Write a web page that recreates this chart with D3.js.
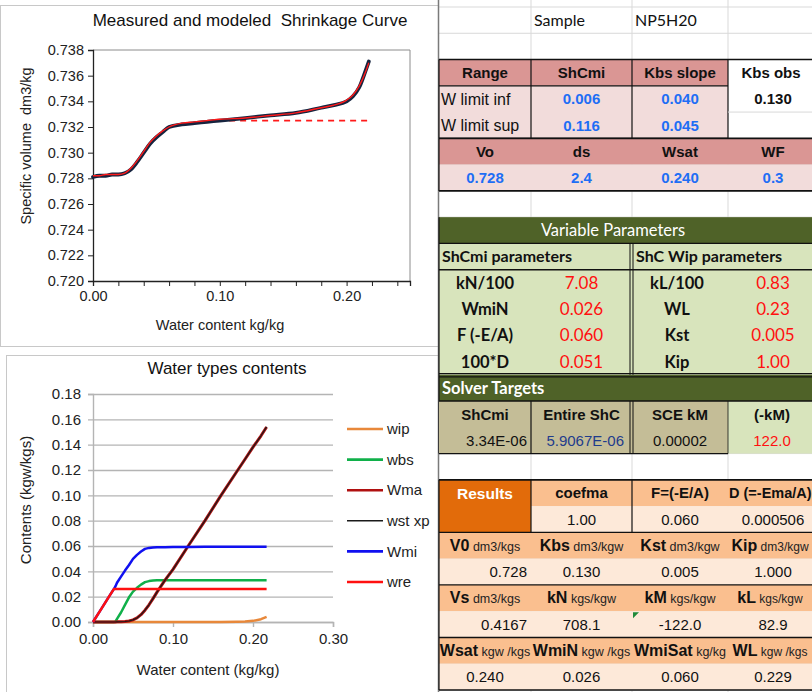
<!DOCTYPE html>
<html>
<head>
<meta charset="utf-8">
<script src="https://cdn.jsdelivr.net/npm/d3@7.9.0/dist/d3.min.js"></script>
<style>
  body { margin: 0; background: #fff; }
  svg { display: block; }
  text { white-space: pre; }
</style>
</head>
<body>
<svg id="sheet" width="812" height="692"></svg>
<script>
// ---------- data: shrinkage curve (top chart) ----------
const shrinkX   = [0, 0.005, 0.01, 0.015, 0.02, 0.025, 0.03, 0.035, 0.04, 0.045, 0.05, 0.055, 0.06, 0.07, 0.08, 0.09, 0.10, 0.12, 0.14, 0.16, 0.18, 0.19, 0.20, 0.205, 0.21, 0.215, 0.2175];
const measuredV = [0.7281, 0.7282, 0.7282, 0.7283, 0.7283, 0.7284, 0.7287, 0.7293, 0.7300, 0.7307, 0.7312, 0.7316, 0.7320, 0.7322, 0.7323, 0.7324, 0.7325, 0.7327, 0.7329, 0.7331, 0.7335, 0.7337, 0.7340, 0.7344, 0.7351, 0.7364, 0.7371];
const modeledV  = [0.7282, 0.7282, 0.7283, 0.7283, 0.7283, 0.7284, 0.7288, 0.7294, 0.7301, 0.7308, 0.7313, 0.7317, 0.7320, 0.7323, 0.7324, 0.7325, 0.7326, 0.7327, 0.7329, 0.7331, 0.7335, 0.7337, 0.7341, 0.7345, 0.7352, 0.7363, 0.7370];
const shcmiX    = [0.09, 0.2175];
const shcmiV    = [0.7325, 0.7325];

// ---------- data: water types (bottom chart) ----------
const waterX = [0, 0.01, 0.02, 0.026, 0.028, 0.03, 0.035, 0.04, 0.045, 0.05, 0.055, 0.06, 0.065, 0.07, 0.075, 0.08, 0.09, 0.10, 0.12, 0.14, 0.16, 0.18, 0.19, 0.20, 0.21, 0.217];
const wip   = [0, 0, 0, 0, 0, 0, 0, 0, 0, 0, 0, 0, 0, 0, 0, 0, 0, 0, 0, 0, 0, 0.0002, 0.0004, 0.0009, 0.0022, 0.0040];
const wbs   = [0, 0, 0, 0, 0.0003, 0.0025, 0.0075, 0.0135, 0.0195, 0.0240, 0.0270, 0.0295, 0.0315, 0.0323, 0.0327, 0.0329, 0.0330, 0.0330, 0.0330, 0.0330, 0.0330, 0.0330, 0.0330, 0.0330, 0.0330, 0.0330];
const wma   = [0, 0, 0, 0, 0, 0.0001, 0.0002, 0.0004, 0.0008, 0.0017, 0.0032, 0.0058, 0.0093, 0.0136, 0.0185, 0.0236, 0.0330, 0.0415, 0.0610, 0.0800, 0.1000, 0.1190, 0.1285, 0.1380, 0.1470, 0.1540];
const wstXp = [0, 0, 0, 0, 0, 0.0001, 0.0002, 0.0004, 0.0008, 0.0017, 0.0032, 0.0058, 0.0093, 0.0136, 0.0185, 0.0236, 0.0330, 0.0415, 0.0610, 0.0800, 0.1000, 0.1190, 0.1285, 0.1380, 0.1470, 0.1540];
const wmi   = [0, 0.0100, 0.0200, 0.0260, 0.0280, 0.0310, 0.0358, 0.0406, 0.0450, 0.0498, 0.0530, 0.0556, 0.0577, 0.0585, 0.0588, 0.0590, 0.0590, 0.0592, 0.0593, 0.0594, 0.0594, 0.0595, 0.0595, 0.0595, 0.0595, 0.0595];
const wre   = [0, 0.0100, 0.0200, 0.0260, 0.0260, 0.0260, 0.0260, 0.0260, 0.0260, 0.0260, 0.0260, 0.0260, 0.0260, 0.0260, 0.0260, 0.0260, 0.0260, 0.0260, 0.0260, 0.0260, 0.0260, 0.0260, 0.0260, 0.0260, 0.0260, 0.0260];
const waterNames  = ["wip", "wbs", "Wma", "wst xp", "Wmi", "wre"];
const waterSeries = [wip, wbs, wma, wstXp, wmi, wre];
const waterColors = ["#e8883a", "#10b04a", "#b01010", "#1a1a1a", "#1010f0", "#ff1010"];
const waterWidths = [2.5, 2.5, 3, 1.2, 2.5, 2.5];

// ---------- data: sheet cells ----------
const sampleRow   = ["Sample", "NP5H20"];
const rangeHead   = ["Range", "ShCmi", "Kbs slope", "Kbs obs"];
const limitLabels = ["W limit inf", "W limit sup"];
const shcmiLimits = ["0.006", "0.116"];
const kbsLimits   = ["0.040", "0.045"];
const kbsObs      = "0.130";
const baseHead    = ["Vo", "ds", "Wsat", "WF"];
const baseVals    = ["0.728", "2.4", "0.240", "0.3"];
const miLabels    = ["kN/100", "WmiN", "F (-E/A)", "100*D"];
const miVals      = ["7.08", "0.026", "0.060", "0.051"];
const wipLabels   = ["kL/100", "WL", "Kst", "Kip"];
const wipVals     = ["0.83", "0.23", "0.005", "1.00"];
const solverHead  = ["ShCmi", "Entire ShC", "SCE kM", "(-kM)"];
const solverVals  = ["3.34E-06", "5.9067E-06", "0.00002", "122.0"];
const resHead     = ["coefma", "F=(-E/A)", "D (=-Ema/A)"];
const resVals     = ["1.00", "0.060", "0.000506"];
const unitHeads = [
  [["V0", "dm3/kgs"], ["Kbs", "dm3/kgw"], ["Kst", "dm3/kgw"], ["Kip", "dm3/kgw"]],
  [["Vs", "dm3/kgs"], ["kN", "kgs/kgw"], ["kM", "kgs/kgw"], ["kL", "kgs/kgw"]],
  [["Wsat", "kgw /kgs"], ["WmiN", "kgw /kgs"], ["WmiSat", "kg/kg"], ["WL", "kgw /kgs"]]
];
const unitVals = [
  ["0.728", "0.130", "0.005", "1.000"],
  ["0.4167", "708.1", "-122.0", "82.9"],
  ["0.240", "0.026", "0.060", "0.229"]
];

const ARIAL = "'Liberation Sans', Arial, sans-serif";
const CALI  = "Lato, 'Open Sans', sans-serif";
const svg = d3.select("#sheet");

// ================= top chart =================
svg.append("rect").attr("x", 0.5).attr("y", 5.5).attr("width", 438).attr("height", 341)
  .attr("fill", "#fff").attr("stroke", "#c8c8c8");

const x1 = d3.scaleLinear().domain([0, 0.25]).range([93, 410]);
const y1 = d3.scaleLinear().domain([0.720, 0.738]).range([281, 50]);

svg.append("path")
  .attr("d", `M${x1(0)},${y1(0.738)}H${x1(0.25)}V${y1(0.720)}`)
  .attr("fill", "none").attr("stroke", "#8c8c8c");

const yAx1 = svg.append("g").attr("transform", `translate(${x1(0)},0)`)
  .call(d3.axisLeft(y1).ticks(9).tickFormat(d3.format(".3f")).tickSize(5));
const xAx1 = svg.append("g").attr("transform", `translate(0,${y1(0.720)})`)
  .call(d3.axisBottom(x1).tickValues(d3.range(13).map(i => i * 0.02))
    .tickFormat(d => Math.abs(d * 10 - Math.round(d * 10)) < 1e-6 ? d3.format(".2f")(d) : "")
    .tickSize(5));
[yAx1, xAx1].forEach(g => {
  g.select(".domain").attr("stroke", "#222").attr("stroke-width", 1.3);
  g.selectAll(".tick line").attr("stroke", "#222");
  g.selectAll("text").attr("font-family", ARIAL).attr("font-size", 14.5).attr("fill", "#222");
});
yAx1.selectAll("text").attr("x", -9);
xAx1.selectAll("text").attr("y", 10);

const line1 = d3.line().x(d => x1(d[0])).y(d => y1(d[1]));
svg.append("path").datum(d3.zip(shcmiX, shcmiV))
  .attr("d", line1).attr("fill", "none").attr("stroke", "#ff1a1a")
  .attr("stroke-width", 1.8).attr("stroke-dasharray", "6,5");
svg.append("path").datum(d3.zip(shrinkX, measuredV))
  .attr("d", line1.curve(d3.curveMonotoneX)).attr("fill", "none").attr("stroke", "#16243f")
  .attr("stroke-width", 3.8).attr("stroke-linecap", "round");
svg.append("path").datum(d3.zip(shrinkX, modeledV))
  .attr("d", line1).attr("fill", "none").attr("stroke", "#ff1a1a").attr("stroke-width", 1.4);

svg.append("text").attr("x", 250).attr("y", 26).attr("text-anchor", "middle")
  .attr("font-family", ARIAL).attr("font-size", 17).attr("fill", "#111")
  .text("Measured and modeled  Shrinkage Curve");
svg.append("text").attr("transform", "translate(31,146) rotate(-90)").attr("text-anchor", "middle")
  .attr("font-family", ARIAL).attr("font-size", 14.5).attr("fill", "#222")
  .text("Specific volume  dm3/kg");
svg.append("text").attr("x", 220).attr("y", 330).attr("text-anchor", "middle")
  .attr("font-family", ARIAL).attr("font-size", 14.5).attr("fill", "#222")
  .text("Water content kg/kg");

// ================= bottom chart =================
svg.append("rect").attr("x", 6.5).attr("y", 355.5).attr("width", 432).attr("height", 340)
  .attr("fill", "#fff").attr("stroke", "#c8c8c8");

const x2 = d3.scaleLinear().domain([0, 0.30]).range([93, 333]);
const y2 = d3.scaleLinear().domain([0, 0.18]).range([622, 394]);

const yAx2 = svg.append("g").attr("transform", `translate(${x2(0)},0)`)
  .call(d3.axisLeft(y2).ticks(9).tickFormat(d3.format(".2f")).tickSize(5));
yAx2.selectAll(".tick line").attr("x2", x2(0.30) - x2(0)).attr("x1", -5)
  .attr("stroke", "#b4b4b4").attr("stroke-width", 1.4);
yAx2.select(".domain").attr("stroke", "#b4b4b4").attr("stroke-width", 1.4);
const xAx2 = svg.append("g").attr("transform", `translate(0,${y2(0)})`)
  .call(d3.axisBottom(x2).tickValues([0, 0.1, 0.2, 0.3]).tickFormat(d3.format(".2f")).tickSize(5));
xAx2.select(".domain").attr("stroke", "#b4b4b4").attr("stroke-width", 1.4);
xAx2.selectAll(".tick line").attr("stroke", "#b4b4b4").attr("stroke-width", 1.4);
[yAx2, xAx2].forEach(g => g.selectAll("text")
  .attr("font-family", ARIAL).attr("font-size", 15).attr("fill", "#222"));
yAx2.selectAll("text").attr("x", -12);
xAx2.selectAll("text").attr("y", 11);

const line2 = d3.line().x(d => x2(d[0])).y(d => y2(d[1]));
waterSeries.forEach((vals, i) => {
  svg.append("path").datum(d3.zip(waterX, vals))
    .attr("d", line2).attr("fill", "none")
    .attr("stroke", waterColors[i]).attr("stroke-width", waterWidths[i])
    .attr("stroke-linejoin", "round");
});

svg.append("text").attr("x", 227).attr("y", 374).attr("text-anchor", "middle")
  .attr("font-family", ARIAL).attr("font-size", 17).attr("fill", "#111")
  .text("Water types contents");
svg.append("text").attr("transform", "translate(31,500) rotate(-90)").attr("text-anchor", "middle")
  .attr("font-family", ARIAL).attr("font-size", 15).attr("fill", "#222")
  .text("Contents (kgw/kgs)");
svg.append("text").attr("x", 208).attr("y", 675).attr("text-anchor", "middle")
  .attr("font-family", ARIAL).attr("font-size", 15).attr("fill", "#222")
  .text("Water content (kg/kg)");

const legend = svg.append("g").attr("transform", "translate(347,429)");
waterNames.forEach((name, i) => {
  const row = legend.append("g").attr("transform", `translate(0,${i * 30.6})`);
  row.append("line").attr("x1", 0).attr("x2", 36)
    .attr("stroke", waterColors[i]).attr("stroke-width", i === 3 ? 1.4 : 2.6);
  row.append("text").attr("x", 40).attr("dy", "0.35em")
    .attr("font-family", ARIAL).attr("font-size", 15).attr("fill", "#222").text(name);
});

// ================= spreadsheet =================
const colX = d3.scaleLinear().domain([0, 1, 2, 3, 4]).range([439, 531, 632, 728, 824]);
const rowY = d3.scaleLinear().domain([0, 26]).range([7, 690]);
const sheet = svg.append("g");

// gridlines
d3.range(0, 27).forEach(r => sheet.append("line")
  .attr("x1", colX(0)).attr("x2", 812).attr("y1", rowY(r)).attr("y2", rowY(r))
  .attr("stroke", "#d9d9d9"));
[1, 2, 3].forEach(c => sheet.append("line")
  .attr("x1", colX(c)).attr("x2", colX(c)).attr("y1", 0).attr("y2", 692)
  .attr("stroke", "#d9d9d9"));
sheet.append("line").attr("x1", 438.5).attr("x2", 438.5).attr("y1", 0).attr("y2", 692)
  .attr("stroke", "#7a7a7a").attr("stroke-width", 1.5);

function fill(c0, c1, r0, r1, color) {
  sheet.append("rect").attr("x", colX(c0)).attr("y", rowY(r0))
    .attr("width", colX(c1) - colX(c0)).attr("height", rowY(r1) - rowY(r0)).attr("fill", color);
}
function hline(c0, c1, r, w = 1.2) {
  sheet.append("line").attr("x1", colX(c0)).attr("x2", colX(c1)).attr("y1", rowY(r)).attr("y2", rowY(r))
    .attr("stroke", "#111").attr("stroke-width", w);
}
function vline(c, r0, r1, w = 1.2) {
  sheet.append("line").attr("x1", colX(c)).attr("x2", colX(c)).attr("y1", rowY(r0)).attr("y2", rowY(r1))
    .attr("stroke", "#111").attr("stroke-width", w);
}
function label(x, r, s, o = {}) {
  return sheet.append("text").attr("x", x).attr("y", rowY(r + 0.5)).attr("dy", "0.36em")
    .attr("text-anchor", o.anchor || "middle")
    .attr("font-family", o.font || ARIAL).attr("font-size", o.size || 15)
    .attr("font-weight", o.bold ? "bold" : "normal")
    .attr("fill", o.color || "#111").text(s);
}
const mid = c => colX(c + 0.5);

// sample row
label(colX(1) + 3, 0, sampleRow[0], { anchor: "start", font: CALI, size: 16 });
label(colX(2) + 3, 0, sampleRow[1], { anchor: "start", font: CALI, size: 16 });

// range block
const ROSE = "#da9694", PINK = "#f2dcdb", BLUE = "#1e6ef5";
fill(0, 3, 2, 3, ROSE);
fill(0, 3, 3, 5, PINK);
fill(3, 4, 2, 5, "#fff");
hline(0, 4, 2, 1.6);
hline(0, 3, 3);
hline(0, 3, 5);
[0, 1, 2, 3].forEach(c => vline(c, 2, 5));
sheet.append("line").attr("x1", colX(3)).attr("x2", 812).attr("y1", rowY(4)).attr("y2", rowY(4)).attr("stroke", "#d9d9d9");
rangeHead.forEach((s, i) => label(mid(i) - (i === 3 ? 5 : 0), 2, s, { bold: true }));
limitLabels.forEach((s, i) => {
  label(colX(0) + 2, 3 + i, s, { anchor: "start", size: 16 });
  label(mid(1), 3 + i, shcmiLimits[i], { bold: true, color: BLUE });
  label(mid(2), 3 + i, kbsLimits[i], { bold: true, color: BLUE });
});
label(mid(3) - 3, 3, kbsObs, { bold: true });

// base values block
fill(0, 4, 5, 6, ROSE);
fill(0, 4, 6, 7, PINK);
hline(0, 4, 5, 1.6);
hline(0, 4, 7, 1.6);
vline(0, 5, 7);
baseHead.forEach((s, i) => label(mid(i) - (i === 3 ? 3 : 0), 5, s, { bold: true }));
baseVals.forEach((s, i) => label(mid(i) - (i === 3 ? 3 : 0), 6, s, { bold: true, color: BLUE }));

// variable parameters block
const OLIVE = "#4f6228", LGREEN = "#d8e4bc", TAN = "#c4bd97";
fill(0, 4, 8, 9, OLIVE);
fill(0, 4, 9, 14, LGREEN);
fill(0, 4, 14, 15, OLIVE);
hline(0, 4, 9, 1.4);
hline(0, 4, 10, 1.4);
hline(0, 4, 13.96, 1.2);
hline(0, 4, 14.08, 1.2);
vline(0, 8, 17);
sheet.append("line").attr("x1", colX(2) - 2).attr("x2", colX(2) - 2).attr("y1", rowY(9)).attr("y2", rowY(14)).attr("stroke", "#111");
sheet.append("line").attr("x1", colX(2) + 1).attr("x2", colX(2) + 1).attr("y1", rowY(9)).attr("y2", rowY(14)).attr("stroke", "#111");
label(colX(2) - 19, 8, "Variable Parameters", { font: CALI, size: 16.5, color: "#fff" });
label(colX(0) + 3, 9, "ShCmi parameters", { anchor: "start", font: CALI, size: 16, bold: true });
label(colX(2) + 4, 9, "ShC Wip parameters", { anchor: "start", font: CALI, size: 16, bold: true });
miLabels.forEach((s, i) => {
  label(mid(0), 10 + i, s, { font: CALI, size: 16.5, bold: true });
  label(mid(1), 10 + i, miVals[i], { font: CALI, size: 17, color: "#ff1010" });
  label(mid(2) - 3, 10 + i, wipLabels[i], { font: CALI, size: 16.5, bold: true });
  label(mid(3) - 3, 10 + i, wipVals[i], { font: CALI, size: 17, color: "#ff1010" });
});
label(colX(0) + 3, 14, "Solver Targets", { anchor: "start", font: CALI, size: 16.5, bold: true, color: "#fff" });

// solver block
fill(0, 3, 15, 17, TAN);
fill(3, 4, 15, 17, LGREEN);
hline(0, 4, 15, 1.4);
hline(0, 3, 17, 1.4);
vline(1, 15, 17);
sheet.append("line").attr("x1", colX(2) - 2).attr("x2", colX(2) - 2).attr("y1", rowY(15)).attr("y2", rowY(17)).attr("stroke", "#111");
sheet.append("line").attr("x1", colX(2) + 1).attr("x2", colX(2) + 1).attr("y1", rowY(15)).attr("y2", rowY(17)).attr("stroke", "#111");
vline(3, 15, 17, 0.8);
solverHead.forEach((s, i) => label(mid(i) - (i === 3 ? 4 : 0), 15, s, { bold: true }));
label(colX(1) - 4, 16, solverVals[0], { anchor: "end" });
label(colX(2) - 8, 16, solverVals[1], { anchor: "end", color: "#1f3c8c" });
label(mid(2), 16, solverVals[2]);
label(mid(3) - 4, 16, solverVals[3], { color: "#ff1010" });

// results block
const ORANGE = "#e26b0a", PEACH = "#fabf8f", CREAM = "#fde9d9";
fill(0, 1, 18, 20, ORANGE);
fill(1, 4, 18, 19, PEACH);
fill(1, 4, 19, 20, CREAM);
[20, 22, 24].forEach(r => { fill(0, 4, r, r + 1, PEACH); fill(0, 4, r + 1, r + 2, CREAM); });
hline(0, 4, 18, 1.6);
[20, 22, 24].forEach(r => hline(0, 4, r, 1.4));
hline(0, 4, 26, 1.6);
vline(0, 18, 26);
vline(1, 18, 20);
vline(2, 18, 20);
label(mid(0), 18, "Results", { bold: true, color: "#fff", size: 15.5 });
label(mid(1), 18, resHead[0], { bold: true });
label(mid(2), 18, resHead[1], { bold: true });
// last header runs past the window edge, as in the sheet
label(colX(3) + 1, 18, resHead[2], { bold: true, anchor: "start", size: 14.5 });
resVals.forEach((s, i) => label(mid(i + 1) - (i === 2 ? 3 : 0), 19, s));

const defs = svg.append("defs");
[0, 1, 2, 3].forEach(c => defs.append("clipPath").attr("id", `col${c}`)
  .append("rect").attr("x", colX(c)).attr("y", 0).attr("width", colX(c + 1) - colX(c)).attr("height", 692));

unitHeads.forEach((row, k) => {
  const r = 20 + 2 * k;
  row.forEach(([main, unit], c) => {
    const t = label(mid(c) - (c === 3 ? 6 : 0), r, null).attr("clip-path", `url(#col${c})`);
    t.append("tspan").attr("font-weight", "bold").attr("font-size", 16).text(main);
    t.append("tspan").attr("font-size", c === 3 ? 12 : 12.5).attr("fill", "#222").text(" " + unit);
  });
  unitVals[k].forEach((s, c) => {
    if (c === 0 && k < 2) label(colX(1) - 4, r + 1, s, { anchor: "end" });
    else label(mid(c) - (c === 3 ? 3 : 0), r + 1, s);
  });
});
// error indicator in the kM cell
sheet.append("path")
  .attr("d", `M${colX(2) + 1},${rowY(23) + 1}h6l-6,6z`).attr("fill", "#1e8a3a");
</script>
</body>
</html>
